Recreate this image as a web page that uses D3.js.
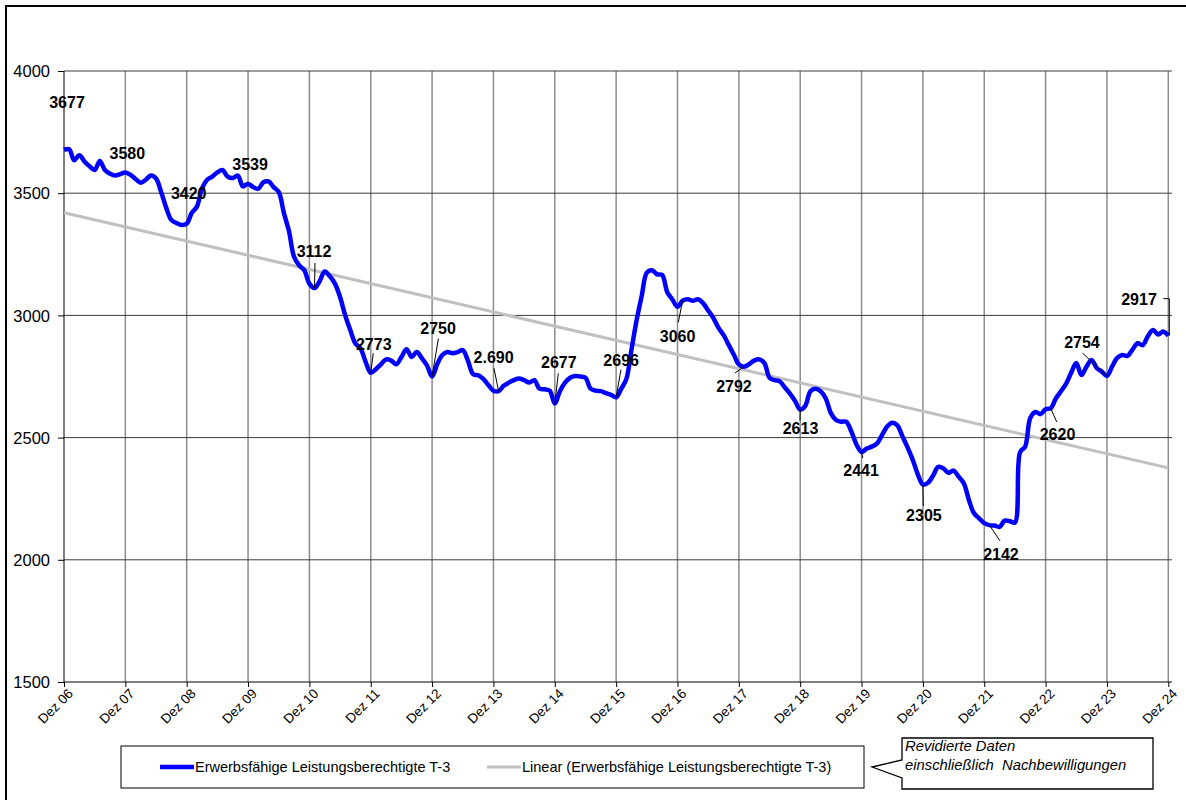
<!DOCTYPE html>
<html>
<head>
<meta charset="utf-8">
<script src="https://cdn.jsdelivr.net/npm/d3@7"></script>
<style>
  body { margin: 0; background: #fff; }
  text { font-family: "Liberation Sans", Arial, sans-serif; }
</style>
</head>
<body>
<div id="chart"></div>
<script>
// Monthly values, Dez 06 .. Dez 24
const values = [
  3677, 3680, 3635, 3655, 3630, 3610, 3595, 3632, 3595, 3580, 3572, 3578, 3585,
  3575, 3558, 3543, 3555, 3572, 3560, 3505, 3440, 3390, 3378, 3370, 3375,
  3420, 3445, 3520, 3555, 3568, 3585, 3595, 3568, 3562, 3572, 3528, 3539,
  3525, 3518, 3545, 3548, 3525, 3505, 3420, 3345, 3240, 3205, 3185, 3130,
  3112, 3140, 3180, 3160, 3130, 3075, 3000, 2940, 2885, 2865, 2810, 2765,
  2780, 2800, 2820, 2815, 2800, 2830, 2862, 2830, 2850, 2825, 2795, 2750,
  2800, 2838, 2850, 2845, 2850, 2858, 2815, 2760, 2755, 2740, 2715, 2692,
  2690, 2712, 2725, 2735, 2742, 2735, 2725, 2735, 2700, 2698, 2692, 2640,
  2690, 2725, 2745, 2752, 2750, 2745, 2700, 2692, 2690, 2682, 2675, 2665,
  2700, 2740, 2860, 2980, 3080, 3175, 3185, 3168, 3165, 3095, 3065, 3035,
  3060, 3066, 3060, 3066, 3050, 3020, 2990, 2950, 2920, 2880, 2840, 2800,
  2790, 2800, 2815, 2820, 2805, 2745, 2735, 2730, 2705, 2680, 2650, 2615,
  2630, 2690, 2700, 2690, 2660, 2600, 2572, 2565, 2565, 2525, 2472, 2441,
  2455, 2463, 2475, 2510, 2545, 2561, 2550, 2505, 2460, 2410, 2350, 2308,
  2315, 2345, 2380, 2374, 2356, 2365, 2340, 2313, 2245, 2190, 2170, 2150,
  2142, 2140, 2135, 2160, 2158, 2152, 2440, 2463, 2580, 2605, 2596, 2616,
  2620, 2660, 2690, 2720, 2765, 2805, 2756, 2790, 2817, 2785, 2770, 2752,
  2790, 2826, 2838, 2834, 2860, 2886, 2878, 2915, 2940, 2922, 2934, 2917
];

// Linear trend, value at first and last month
const trendValues = [3420, 2376];

const tickLabels = ["Dez 06", "Dez 07", "Dez 08", "Dez 09", "Dez 10", "Dez 11", "Dez 12",
  "Dez 13", "Dez 14", "Dez 15", "Dez 16", "Dez 17", "Dez 18", "Dez 19", "Dez 20",
  "Dez 21", "Dez 22", "Dez 23", "Dez 24"];

const yTicks = [1500, 2000, 2500, 3000, 3500, 4000];

// data labels: month index and text
const labelIdx  = [0, 12, 24, 36, 49, 60, 72, 85, 96, 108, 121, 133, 144, 156, 168, 181, 193, 204, 216];
const labelText = ["3677", "3580", "3420", "3539", "3112", "2773", "2750", "2.690", "2677", "2696",
  "3060", "2792", "2613", "2441", "2305", "2142", "2620", "2754", "2917"];

// label layout: text offset [dx, dy] and leader start [lx, ly] relative to the point
const labelLayout = [
  [3, -42, null], [2, -13, null], [2, -25, null], [2, -14, null],
  [-0.5, -31, [0.5, -25]], [3, -22.6, [2.5, -19.6]], [6, -43, [6.3, -38]],
  [-5, -28, [-4.6, -23]], [4, -35, [3.5, -30]], [5, -31.6, [4.8, -27.6]],
  [-5, 41, [-4.3, 21.6]], [-10, 25, [-9, 6.3]], [0.3, 25, [-0.2, 11.3]],
  [-0.5, 24, [1.2, 6]], [1, 36.4, [0.4, 21.4]], [11.6, 34.7, [10.6, 15.7]],
  [6.8, 31.7, [6, 13.7]], [-25, -27.8, [-24.3, -22.8]], [-29.3, -30.2, "elbow"]
];

const width = 1186, height = 800;
const plot = {left: 64, right: 1168.3, top: 71, bottom: 682, gridRight: 1172};

const svg = d3.select("#chart").append("svg")
  .attr("width", width)
  .attr("height", height);

svg.append("rect").attr("width", width).attr("height", height).attr("fill", "#fff");

// outer chart frame
svg.append("rect")
  .attr("x", 6).attr("y", 6)
  .attr("width", 1200).attr("height", 820)
  .attr("fill", "none")
  .attr("stroke", "#000")
  .attr("stroke-width", 2);

const x = d3.scaleLinear().domain([0, values.length - 1]).range([plot.left, plot.right]);
const y = d3.scaleLinear().domain([1500, 4000]).range([plot.bottom, plot.top]);

const tickIdx = tickLabels.map((d, i) => i * 12);

// vertical grid
svg.append("g")
  .selectAll("line")
  .data(tickIdx.slice(1))
  .join("line")
  .attr("x1", d => x(d)).attr("x2", d => x(d))
  .attr("y1", plot.top).attr("y2", plot.bottom)
  .attr("stroke", "#8c8c8c")
  .attr("stroke-width", 1.5);

// horizontal grid
svg.append("g")
  .selectAll("line")
  .data(yTicks.slice(1))
  .join("line")
  .attr("x1", plot.left).attr("x2", plot.gridRight)
  .attr("y1", d => y(d)).attr("y2", d => y(d))
  .attr("stroke", "#3c3c3c")
  .attr("stroke-width", 1);

// y axis
const yAxis = svg.append("g")
  .attr("transform", `translate(${plot.left},0)`)
  .call(d3.axisLeft(y).tickValues(yTicks).tickSize(6).tickPadding(8).tickFormat(d3.format("d")));
yAxis.select(".domain").attr("stroke", "#000").attr("d", `M0,${plot.bottom}V${plot.top}`);
yAxis.selectAll("text")
  .attr("font-size", "16.5px")
  .attr("font-family", "'Liberation Sans', Arial, sans-serif")
  .attr("fill", "#000")
  .attr("dy", "0.35em");

// x axis
const xAxis = svg.append("g")
  .attr("transform", `translate(0,${plot.bottom})`)
  .call(d3.axisBottom(x).tickValues(tickIdx).tickSize(5).tickFormat((d, i) => tickLabels[i]));
xAxis.select(".domain").attr("stroke", "#000").attr("d", `M${plot.left},0H${plot.gridRight}`);
xAxis.selectAll("text")
  .attr("font-size", "13.5px")
  .attr("font-family", "'Liberation Sans', Arial, sans-serif")
  .attr("fill", "#000")
  .attr("text-anchor", "end")
  .attr("transform", "translate(6,9) rotate(-45)")
  .attr("dy", "0.35em")
  .attr("y", 0)
  .attr("x", 0);

// trend line
const trendLine = d3.line()
  .x((d, i) => x(i === 0 ? 0 : values.length - 1))
  .y(d => y(d));
svg.append("path")
  .datum(trendValues)
  .attr("fill", "none")
  .attr("stroke", "#c0c0c0")
  .attr("stroke-width", 3)
  .attr("d", trendLine);

// main line
const line = d3.line()
  .x((d, i) => x(i))
  .y(d => y(d))
  .curve(d3.curveCatmullRom.alpha(0.5));
svg.append("path")
  .datum(values)
  .attr("fill", "none")
  .attr("stroke", "#0000ff")
  .attr("stroke-width", 4.5)
  .attr("stroke-linejoin", "round")
  .attr("d", line);

// data labels
const labels = svg.append("g");
labelIdx.forEach((idx, i) => {
  const px = x(idx), py = y(values[idx]);
  const [dx, dy, lead] = labelLayout[i];
  if (lead === "elbow") {
    labels.append("path")
      .attr("d", `M${px - 5},${py - 37}H${px + 1}V${py}`)
      .attr("fill", "none").attr("stroke", "#000").attr("stroke-width", 1);
  } else if (lead) {
    labels.append("line")
      .attr("x1", px + lead[0]).attr("y1", py + lead[1])
      .attr("x2", px).attr("y2", py)
      .attr("stroke", "#000").attr("stroke-width", 1);
  }
  labels.append("text")
    .attr("x", px + dx).attr("y", py + dy)
    .attr("text-anchor", "middle")
    .attr("font-size", "16px")
    .attr("font-weight", "bold")
    .attr("fill", "#000")
    .text(labelText[i]);
});

// legend
const legend = svg.append("g");
legend.append("rect")
  .attr("x", 121).attr("y", 746)
  .attr("width", 743).attr("height", 42)
  .attr("fill", "#fff").attr("stroke", "#000").attr("stroke-width", 1);
legend.append("line")
  .attr("x1", 160).attr("x2", 194).attr("y1", 767).attr("y2", 767)
  .attr("stroke", "#0000ff").attr("stroke-width", 4.5);
legend.append("text")
  .attr("x", 195).attr("y", 772)
  .attr("font-size", "14.5px")
  .text("Erwerbsfähige Leistungsberechtigte T-3");
legend.append("line")
  .attr("x1", 487).attr("x2", 521).attr("y1", 767).attr("y2", 767)
  .attr("stroke", "#c0c0c0").attr("stroke-width", 3);
legend.append("text")
  .attr("x", 522).attr("y", 772)
  .attr("font-size", "14.5px")
  .text("Linear (Erwerbsfähige Leistungsberechtigte T-3)");

// callout note
const note = svg.append("g");
note.append("path")
  .attr("d", "M902,738H1153V789H902V778L872,767L902,760Z")
  .attr("fill", "#fff").attr("stroke", "#000").attr("stroke-width", 1.3);
note.append("text")
  .attr("x", 905).attr("y", 751)
  .attr("font-size", "14.8px").attr("font-style", "italic")
  .text("Revidierte Daten");
note.append("text")
  .attr("x", 905).attr("y", 770)
  .attr("font-size", "14.8px").attr("font-style", "italic")
  .style("white-space", "pre")
  .text("einschließlich  Nachbewilligungen");
</script>
</body>
</html>
